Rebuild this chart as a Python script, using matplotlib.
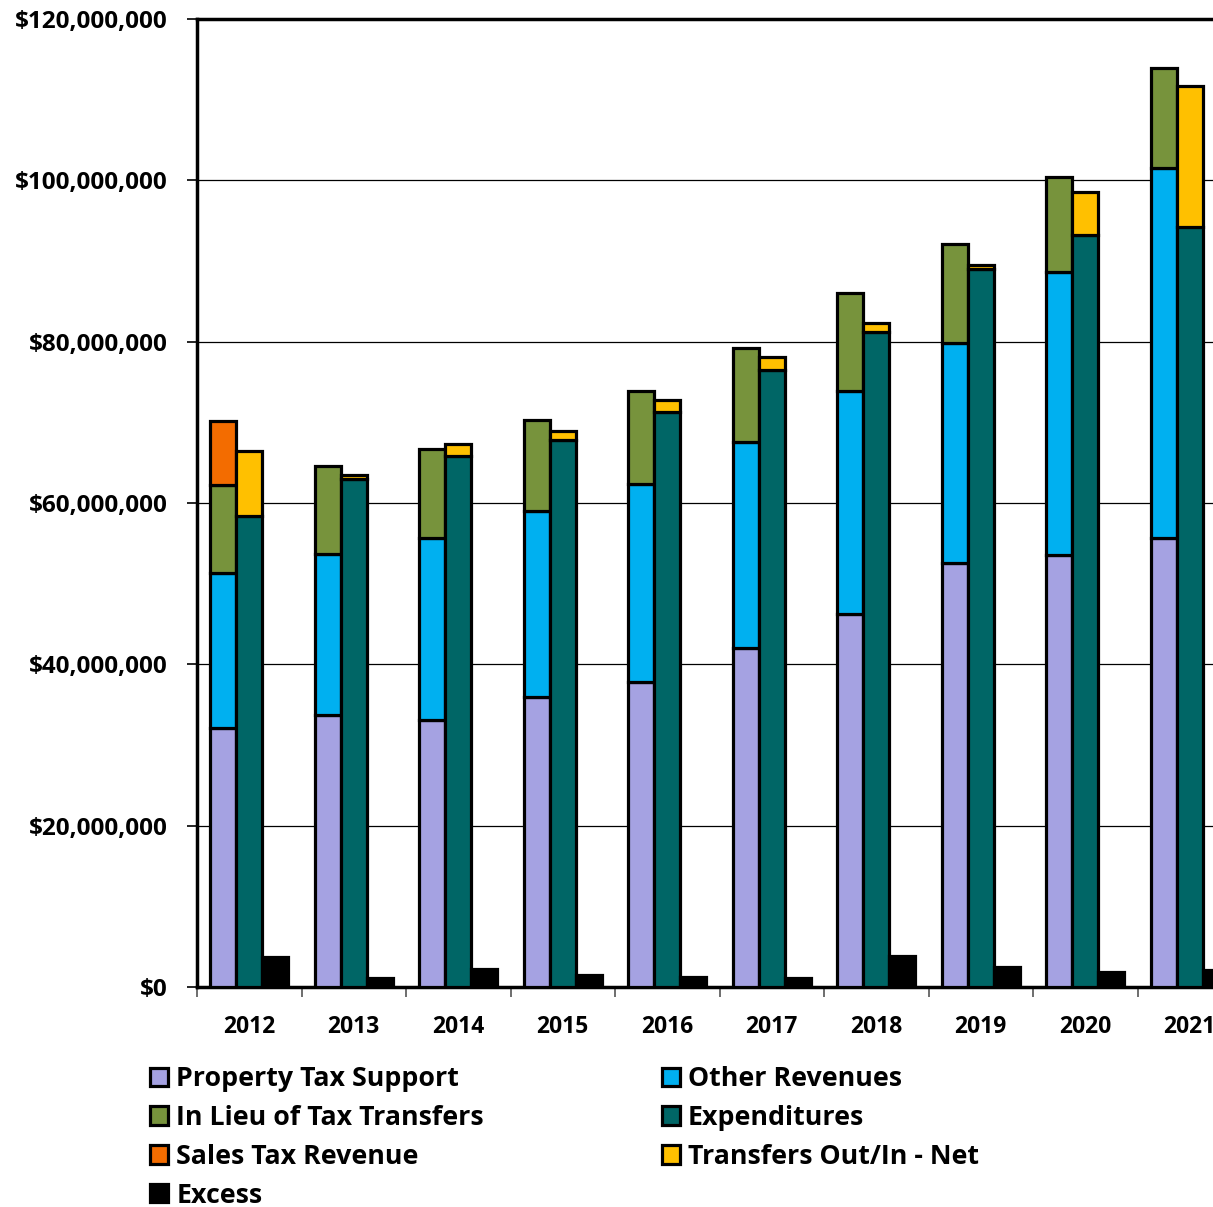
import numpy as np
import matplotlib
matplotlib.use("Agg")
import matplotlib.pyplot as plt
from matplotlib.ticker import FuncFormatter, FixedLocator

plt.rcParams['font.family'] = ['Open Sans', 'DejaVu Sans']
plt.rcParams['font.weight'] = 'bold'

years = ['2012', '2013', '2014', '2015', '2016', '2017', '2018', '2019', '2020', '2021']

# revenue stack (millions)
property_tax = [32.1, 33.7, 33.1, 35.9, 37.8, 42.0, 46.2, 52.6, 53.6, 55.7]
other_revenues = [19.2, 20.0, 22.6, 23.1, 24.6, 25.6, 27.7, 27.2, 35.0, 45.8]
in_lieu = [10.9, 10.9, 11.0, 11.3, 11.5, 11.6, 12.1, 12.3, 11.8, 12.4]
sales_tax = [8.0, 0, 0, 0, 0, 0, 0, 0, 0, 0]

# expenditure stack (millions)
expenditures = [58.4, 63.0, 65.8, 67.8, 71.3, 76.5, 81.2, 89.0, 93.2, 94.2]
transfers = [8.0, 0.5, 1.5, 1.1, 1.5, 1.6, 1.1, 0.5, 5.3, 17.5]

excess = [3.7, 1.1, 2.2, 1.5, 1.2, 1.1, 3.8, 2.5, 1.9, 2.1]

c_prop = '#A5A2E2'
c_other = '#00B0F0'
c_lieu = '#77933C'
c_sales = '#F36C00'
c_exp = '#006666'
c_trans = '#FFC000'
c_excess = '#000000'

fig = plt.figure(figsize=(12.13, 12.07), dpi=100)
ax = fig.add_axes([197 / 1213, 220 / 1207, 1045 / 1213, 968 / 1207])

x = np.arange(len(years)) + 0.5
w = 0.25
M = 1e6
edge = dict(edgecolor='black', linewidth=2.3, zorder=3)

pt = np.array(property_tax) * M
orv = np.array(other_revenues) * M
il = np.array(in_lieu) * M
st = np.array(sales_tax) * M
ex = np.array(expenditures) * M
tr = np.array(transfers) * M
xs = np.array(excess) * M

b_pt = ax.bar(x - w, pt, w, color=c_prop, label='Property Tax Support', **edge)
b_or = ax.bar(x - w, orv, w, bottom=pt, color=c_other, label='Other Revenues', **edge)
b_il = ax.bar(x - w, il, w, bottom=pt + orv, color=c_lieu, label='In Lieu of Tax Transfers', **edge)
sx = [xi for xi, s in zip(x, st) if s > 0]
sv = [s for s in st if s > 0]
sb = [b for b, s in zip(pt + orv + il, st) if s > 0]
b_st = ax.bar(np.array(sx) - w, sv, w, bottom=sb, color=c_sales, label='Sales Tax Revenue', **edge)
b_ex = ax.bar(x, ex, w, color=c_exp, label='Expenditures', **edge)
b_tr = ax.bar(x, tr, w, bottom=ex, color=c_trans, label='Transfers Out/In - Net', **edge)
b_xs = ax.bar(x + w, xs, w, color=c_excess, label='Excess', **edge)

ax.set_xlim(0, 10)
ax.set_ylim(0, 120 * M)
ax.yaxis.set_major_locator(FixedLocator(np.arange(0, 121, 20) * M))
ax.yaxis.set_major_formatter(FuncFormatter(lambda v, p: '${:,.0f}'.format(v)))
ax.yaxis.grid(True, color='black', linewidth=0.9, zorder=0)
ax.set_axisbelow(True)

ax.set_xticks(np.arange(0, 11))
ax.set_xticklabels([])
ax.set_xticks(x, minor=True)
ax.set_xticklabels(years, minor=True)
ax.tick_params(axis='x', which='major', length=7, width=1.2, direction='out', color='#555555')
ax.tick_params(axis='x', which='minor', length=0, pad=20, labelsize=16.5)
ax.tick_params(axis='y', length=7, width=1.2, direction='out', labelsize=17.5, pad=14)
for lab in ax.get_xticklabels(minor=True) + ax.get_yticklabels():
    lab.set_fontweight('bold')

for s in ['left', 'top', 'bottom']:
    ax.spines[s].set_linewidth(2.5)
ax.spines['right'].set_visible(False)

handles = [b_pt, b_il, b_st, b_xs, b_or, b_ex, b_tr]
labels = [h.get_label() for h in handles]
fig.legend(handles, labels, loc='upper left', bbox_to_anchor=(126 / 1213, 1 - 1042 / 1207),
           ncol=2, frameon=False, handlelength=0.67, handleheight=0.67,
           handletextpad=0.3, columnspacing=6.65, labelspacing=0.48,
           prop={'weight': 'bold', 'size': 19.3})

fig.savefig('out.png', dpi=100)
